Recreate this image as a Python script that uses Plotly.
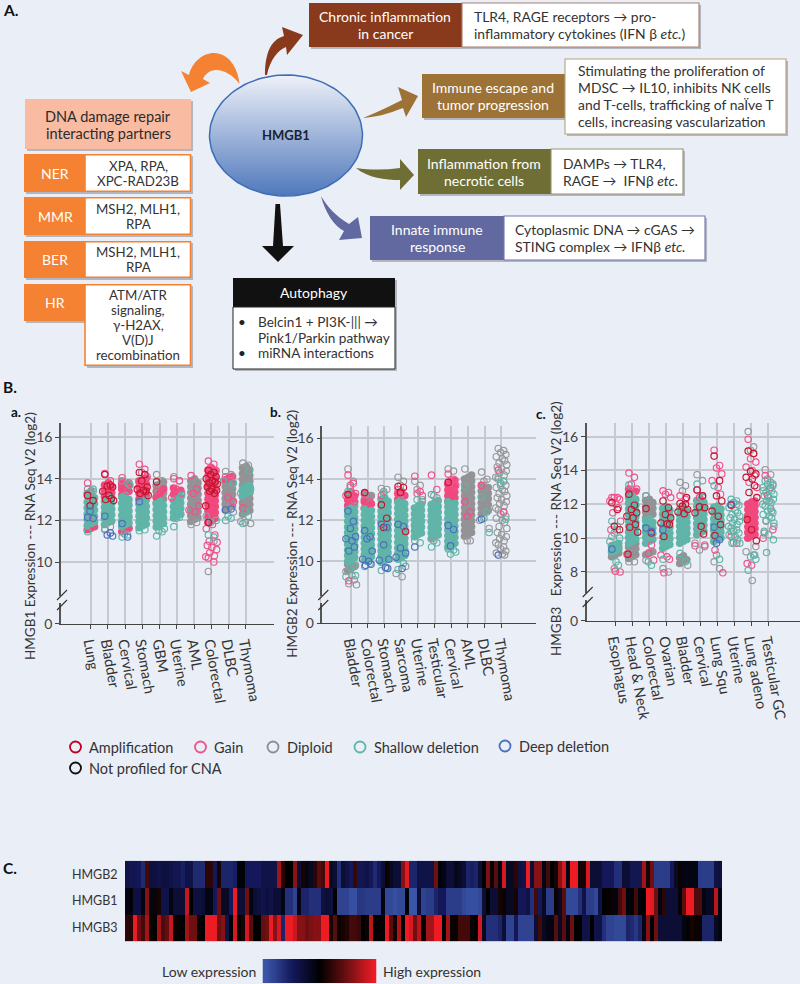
import numpy as np
import plotly.graph_objects as go

# ---------- data: panel a ----------
A_CATEGORIES = ["Lung", "Bladder", "Cervical", "Stomach", "GBM", "Uterine", "AML", "Colorectal", "DLBC", "Thymoma"]
A_SHALLOW_CORE = [
    [11.75,11.85,11.92,12.03,12.1,12.2,12.31,12.4,12.5,12.6,12.68,12.8,12.88,13.0,13.08,13.2,13.3],
    [11.8,11.9,11.97,12.08,12.15,12.27,12.35,12.46,12.55,12.64,12.73,12.84,12.92,13.02,13.1],
    [11.7,11.8,11.87,11.98,12.06,12.17,12.25,12.36,12.45,12.55,12.63,12.74,12.82,12.93,13.0,13.12,13.2],
    [11.65,11.74,11.83,11.94,12.02,12.12,12.21,12.31,12.4,12.5,12.58,12.68,12.77,12.88,12.98],
    [11.68,11.78,11.85,11.96,12.04,12.14,12.23,12.33,12.42,12.52,12.6,12.71,12.8,12.9],
    [12.12,12.2,12.3,12.38,12.48,12.57,12.66,12.76,12.85,12.95,13.03,13.12],
    [],
    [],
    [],
    [13.2,13.3,13.38,13.48,13.58,13.66],
]
A_GAIN_CORE = [
    [11.55,11.62,11.7],
    [13.15,13.24,13.33,13.42,13.52,13.6,13.7,13.8],
    [11.45,11.55,11.62,13.22,13.32,13.4,13.5,13.6,13.68,13.76],
    [13.02,13.12,13.2,13.3,13.4,13.48,13.58,13.68,13.76,13.86,13.95,14.02],
    [13.1,13.3,13.5],
    [13.25,13.35,13.45,13.55],
    [],
    [11.9,12.0,12.1,12.18,12.28,12.38,12.46,12.56,12.66,12.74,12.84,12.94,13.02,13.12,13.22,13.3,13.4,13.5,13.58,13.68,13.78,13.86,13.96,14.06,14.14,14.24,14.34,14.42,14.5],
    [13.95,14.05,14.12],
    [],
]
A_DIPLOID_CORE = [
    [13.3,13.42],
    [],
    [13.6,13.7,13.8,13.86],
    [13.9],
    [12.85,12.95,13.03,13.13,13.22,13.32,13.4,13.5,13.58,13.68,13.76,13.84],
    [],
    [11.95,12.05,12.13,12.23,12.32,12.42,12.5,12.6,12.7,12.78,12.88,12.97,13.07,13.15,13.25,13.35,13.43,13.53,13.62,13.72,13.8,13.9,14.0],
    [],
    [12.5,12.6,12.68,12.78,12.87,12.97,13.05,13.15,13.25,13.33,13.43,13.52,13.62,13.7,13.8,13.88],
    [12.3,12.4,12.48,12.58,12.67,12.77,12.85,12.95,13.05,13.13,13.23,13.32,13.42,13.5,13.6,13.7,13.78,13.88,13.97,14.07,14.15,14.25,14.35,14.43,14.53,14.6],
]
A_DIPLOID = [[13.5,13.4,12.0],[11.55,11.7],[13.9,13.8],[],[14.2,13.9],[14.1,13.9],[11.8,11.9],[9.55,11.0],[14.35,14.2,12.6,12.4],[14.75,14.65,11.9,11.85,11.95]]
A_GAIN = [[13.8],[14.25,13.9],[14.05,13.4],[14.7,14.45,14.3,14.1],[13.4],[14.0,13.9,13.5,13.3,13.1],[14.15,13.5,13.3,12.7,12.5,12.4],
          [14.85,14.7,14.55,14.4,11.6,11.8,11.3,11.0,10.95,10.8,10.7,10.6,10.45,10.3,10.25,10.2,10.0],[14.1,14.0,13.1,12.9],[12.6]]
A_SHALLOW = [[11.45,13.5],[11.6],[11.2,11.3,11.35,13.7],[11.5,11.55],[11.25,11.45,11.5,11.6],[11.7,12.15,12.1,13.2],[],[11.3,11.2,11.9,12.0,12.2],[12.0,12.1,12.2,13.8,13.9],[11.85,12.2,12.4,13.5,13.3,13.7,14.4]]
A_AMP = [[13.2,12.95,12.7],[14.2,13.7,13.65,13.6,13.4,13.2,13.05,13.0,12.95],[],[14.3,14.2,13.9,13.6,13.5,13.45,13.4,13.3,13.2],[13.85],[],[],
         [14.4,14.3,14.2,14.1,14.0,13.9,13.85,13.8,13.75,13.6,13.5,13.45,13.4,13.3,12.7,11.9],[],[]]
A_DEEP = [[12.15,12.1,12.45],[12.2,11.4,11.3,11.25],[11.85,11.2],[12.9],[],[],[],[],[12.5,12.55],[]]
A_YTICKS = [10, 12, 14, 16]

# ---------- data: panel b ----------
B_CATEGORIES = ["Bladder", "Colorectal", "Stomach", "Sarcoma", "Uterine", "Testicular", "Cervical", "AML", "DLBC", "Thymoma"]
B_SHALLOW_CORE = [
    [10.0,10.1,10.18,10.28,10.37,10.47,10.55,10.65,10.75,10.83,10.93,11.02,11.12,11.2,11.3,11.4,11.48,11.58,11.67,11.77,11.85,11.95,12.05,12.13,12.23,12.32,12.42,12.5,12.6,12.7],
    [10.05,10.15,10.23,10.33,10.42,10.52,10.6,10.7,10.8,10.88,10.98,11.07,11.17,11.25,11.35,11.45,11.53,11.63,11.72,11.82,11.9,12.0,12.1,12.18,12.28,12.37,12.47,12.56],
    [9.95,10.05,10.13,10.23,10.32,10.42,10.5,10.6,10.7,10.78,10.88,10.97,11.07,11.15,11.25,11.35,11.43,11.53,11.62,11.72,11.8,11.9,12.0,12.08,12.18,12.27,12.37,12.45,12.55,12.65,12.73,12.83,12.92,13.02,13.1],
    [10.1,10.2,10.28,10.38,10.47,10.57,10.65,10.75,10.85,10.93,11.03,11.12,11.22,11.3,11.4,11.5,11.58,11.68,11.77,11.87,11.95,12.05,12.15,12.23,12.33,12.42,12.52,12.6,12.7,12.8,12.88,12.98],
    [11.2,11.3,11.38,11.48,11.57,11.67,11.75,11.85,11.95,12.03,12.13,12.22,12.32,12.4,12.5,12.6,12.68,12.78],
    [11.1,11.2,11.28,11.38,11.47,11.57,11.65,11.75,11.85,11.93,12.03,12.12,12.22,12.3,12.4,12.5,12.58,12.68,12.77,12.87,12.95],
    [10.7,10.8,10.88,10.98,11.07,11.17,11.25,11.35,11.45,11.53,11.63,11.72,11.82,11.9,12.0,12.1,12.18,12.28,12.37,12.47,12.55,12.65,12.75,12.83,12.9],
    [],
    [],
    [],
]
B_GAIN_CORE = [
    [12.72,12.82,12.9,13.0,13.1,13.18,13.28,13.38],
    [12.6,12.7,12.8,12.9],
    [],
    [13.02,13.12,13.2,13.3,13.4],
    [],
    [],
    [12.92,13.02,13.1,13.2,13.3,13.38,13.48,13.58,13.66,13.76,13.85,13.95],
    [],
    [],
    [],
]
B_DIPLOID_CORE = [
    [9.55,9.65,9.75,9.85,9.95],
    [13.0,13.1,13.2,13.28],
    [],
    [],
    [],
    [],
    [],
    [11.22,11.32,11.4,11.5,11.6,11.68,11.78,11.88,11.96,12.06,12.15,12.25,12.33,12.43,12.53,12.61,12.71,12.8,12.9,12.98,13.08,13.18,13.26,13.36,13.45,13.55,13.63,13.73,13.83,13.91,14.01,14.1,14.2],
    [12.3,12.4,12.48,12.58,12.67,12.77,12.85,12.95,13.05,13.13,13.23,13.32,13.42,13.5,13.6,13.7],
    [],
]
B_DIPLOID = [[14.5,13.9,13.6,9.8,9.5,9.3,9.1,8.9,8.85],[13.3,13.2],[13.55,13.5,13.4],[14.1,13.9,13.7,9.75,9.4,9.25],[13.9,13.7,13.5,13.0],[13.25,13.1,11.0],[14.5,14.4],[14.5,11.0,11.0],[14.35,14.0,13.9,11.6,12.0],
             [15.5,15.4,15.3,15.2,15.1,15.0,14.9,14.8,14.7,14.6,14.5,14.4,14.3,14.2,14.1,14.0,13.9,13.8,13.7,13.6,13.5,13.4,13.3,13.2,13.1,13.0,12.9,12.8,12.7,12.6,12.5,12.4,12.3,12.2,12.1,12.0,11.9,11.7,11.6,11.4,11.3,11.2,11.1,11.0,10.9,10.8,10.7,10.6,10.5,10.4,10.35,10.3]]
B_GAIN = [[14.2,13.8,13.7,13.3,13.2,13.0,12.9,9.05],[13.3,12.9],[13.2],[13.5,13.2],[14.15,13.4,13.3,13.2],[14.2,13.5],[14.25,14.0,13.9,13.7],[12.9,12.4,12.2],[13.7],[14.45,12.4]]
B_SHALLOW = [[13.4,9.8,9.7,9.3,9.25],[9.75,9.9,10.0],[9.55,9.7,13.3],[9.6,9.9],[11.0,10.9,13.0,12.9],[10.7,10.9,13.2],[10.6,10.55,10.35,10.45],[13.65],[13.15,12.4,12.1,11.4],[14.1,13.9,13.7,12.05]]
B_AMP = [[13.25],[13.35],[12.75,12.1,11.65],[13.65,13.6,13.35,11.45],[],[],[13.85],[],[],[]]
B_DEEP = [[12.45,11.95,11.6,11.2,11.1,11.0,10.7,10.5],[11.5,11.2,11.1,10.5,10.1,10.0,9.85,9.8],[11.8,11.65,10.8,10.1,10.05,9.7,9.65],[11.8,11.7,10.65,10.4,10.2,9.65],[10.7],[],[11.75,11.55,10.75],[],[12.05],[10.3]]
B_YTICKS = [10, 12, 14, 16]

# ---------- data: panel c ----------
C_CATEGORIES = ["Esophagus", "Head & Neck", "Colorectal", "Ovarian", "Bladder", "Cervical", "Lung Squ", "Uterine", "Lung adeno", "Testicular GC"]
C_SHALLOW_CORE = [
    [9.15,9.27,9.35,9.47,9.6,9.7],
    [9.7,9.82,9.92,10.04,10.15,10.27,10.37,10.49,10.6,10.72,10.82,10.94,11.05,11.17,11.27,11.39,11.5,11.62,11.72,11.84,11.95,12.07,12.17,12.29,12.4,12.5],
    [9.7,9.82,9.92,10.04,10.15,10.27,10.37,10.49,10.6,10.72,10.82,10.94,11.05,11.15],
    [9.4,9.52,9.62,9.74,9.85,9.97,10.07,10.19,10.3,10.42,10.52,10.64,10.75,10.87,10.97,11.09,11.2,11.32,11.42,11.54,11.65,11.77,11.87],
    [9.7,9.82,9.92,10.04,10.15,10.27,10.37,10.49,10.6,10.72,10.82,10.94,11.05,11.17,11.27,11.39,11.5,11.62,11.72,11.8],
    [10.2,10.32,10.42,10.54,10.65,10.77,10.87,10.99,11.1,11.22,11.32,11.44,11.55,11.67,11.77,11.89,12.0,12.12,12.22,12.3],
    [9.8,9.92,10.02,10.14,10.25,10.37,10.47,10.59,10.7,10.82,10.92,11.04,11.15,11.27,11.37,11.49,11.6,11.72,11.82,11.9],
    [],
    [],
    [],
]
C_GAIN_CORE = [
    [],
    [12.55,12.67,12.77,12.9],
    [],
    [],
    [],
    [],
    [],
    [],
    [10.0,10.12,10.22,10.34,10.45,10.57,10.67,10.79,10.9,11.02,11.12,11.24,11.35,11.47,11.57,11.69,11.8,11.92,12.02,12.14,12.2],
    [],
]
C_DIPLOID_CORE = [
    [8.9,9.02,9.12,9.24,9.35,9.47,9.55],
    [8.8,8.92,9.02,9.14,9.25,9.37,9.47,9.59,9.68],
    [9.02,9.14,9.2,11.2,11.32,11.42,11.54,11.65,11.77,11.87,11.99,12.1,12.22,12.3],
    [],
    [8.5,8.62,8.72,8.84,8.95],
    [],
    [],
    [],
    [],
    [],
]
C_DIPLOID = [[10.1,10.5,8.2],[8.6,8.6],[8.7,9.2],[8.2,8.0],[13.3,13.1,12.8,8.4],[13.75,13.4,9.3,9.5,9.7],[8.6,8.2,9.0],[10.4,12.0,9.75],[16.3,15.4,15.2,9.5,9.2,7.5,9.0],[14.05,13.75,13.5,13.2,12.8,12.2,11.6,11.0,10.7,10.3]]
C_GAIN = [[12.4,12.4,12.4,12.3,12.2,12.0,11.8,11.5,11.0,10.5,8.05,8.0],[13.85,13.6,13.2,12.9,9.05],[12.5,9.6,9.1,8.7],[12.8,12.7,12.6,12.4,9.0,8.9,8.75,7.95],[12.5,12.3],[12.85,12.5,12.4,9.6,9.55],[15.2,14.3,14.15,13.8,13.4,13.0,12.6,9.3,7.95],[10.1,9.7],
          [15.85,15.0,14.7,14.5,14.2,14.0,13.7,13.3,13.0,8.5,8.4],[13.7,13.0,12.5,10.5,10.0]]
C_SHALLOW = [[11.0,10.7,10.3,10.0,9.8,8.6,8.4],[13.15,12.0],[12.5,8.4,8.6],[8.75],[9.1,8.6],[13.2,12.4],[13.1,8.75],
             [12.3,12.2,12.1,11.95,11.8,11.65,11.5,11.4,11.3,11.2,11.1,11.0,10.9,10.8,10.7,10.6,10.5,10.4,10.3,10.2,10.1,9.9,9.7,9.7],[8.1,9.0,8.9,8.75],
             [13.4,13.3,13.2,13.1,13.0,12.9,12.8,12.7,12.6,12.5,12.4,12.3,12.2,12.1,12.0,11.9,11.75,11.6,11.5,11.4,11.3,11.2,11.05,10.9,10.4,10.2,9.9,9.15]]
C_AMP = [[12.1,11.7,10.7,10.5],[12.6,11.95,11.7,11.5,11.3,11.2,10.8,10.65,10.35,9.05],[11.75,10.3],[12.2,11.8,11.4,11.2,10.9,10.85,10.8,10.1],[12.05,12.0,11.9,11.7,11.55,11.45,12.4],[12.85,12.5,11.85,11.8,11.5,10.7,10.25],[14.85,13.4,12.5,12.2,11.6,11.3,10.8,10.15],[11.95],[15.15,15.0,13.95,13.8,13.6,13.5,13.1,12.7,12.4,11.1,10.5,9.85],[]]
C_DEEP = [[9.35],[],[10.6,10.4],[10.5],[],[],[10.65,9.9,9.7],[12.0],[],[]]
C_YTICKS = [8, 10, 12, 14, 16]

# ---------- data: heat map ----------
HEAT_GENES = ["HMGB2", "HMGB1", "HMGB3"]
HMGB2_VALUES = [
    -.4,-.45,-.45,-.5,-.65,.3,-.35,-.35,-.4,-.35,-.35,-.4,-.45,-.45,-.55,-.4,-.4,-.65,-.65,-.65,.2,.2,-.5,.1,-.6,
    -.6,-.6,-.55,-.05,-.05,-.5,-.5,-.5,-.5,-.4,-.4,-.4,-.4,.7,.2,0,0,.6,-.3,.1,-.1,-.2,.2,.4,.3,
    1,-.2,-.3,-.7,-.3,-.4,-.5,.25,-.45,-.45,-.4,-.5,-.65,-.5,-.3,.05,-.2,-.3,-.3,.6,.95,-.6,-.6,-.4,-.4,
    -.4,-.4,.5,-.05,-.1,-.3,-.3,-.15,-.2,-.3,-.6,-.55,-.6,-.3,0,.55,.05,.4,-.1,.9,-.2,-.2,.2,-.35,-.4,
    1,-.3,.6,.6,-.1,.3,0,.1,.6,.9,-.1,1,1,.1,.1,.9,-.3,-.3,-.3,-.5,-.5,-.5,-.7,-.7,-.3,
    -.3,-.45,-.45,-.45,.7,.1,.5,-.8,-.8,-.8,-.8,-.5,-.2,.05,-.1,-.1,-.1,-.1,-.8,-.8,-.8,-.8,-.4,-.35,
]
HMGB1_VALUES = [
    -.1,-.05,-.35,-.35,-.1,.6,-.1,.05,.1,-.4,-.4,-.1,-.3,-.3,-.3,.85,0,-.35,-.35,-.3,-.1,-.1,-.5,.5,-.2,
    -.2,-.5,1,-.3,-.3,.5,-.1,-.3,-.35,-.4,-.35,-.4,-.3,-.3,-.1,-.7,-.7,-.85,-.1,-.6,-.6,-.7,-.7,-.7,-.35,
    -.3,-.35,0,-.85,-.85,-.85,-.95,-.95,-.75,-.75,-.8,-.8,-.8,-.8,-.1,-.9,-.9,-.95,-.9,-.9,-.05,-1,-1,-.3,-.85,
    -.8,-.8,-.6,-.5,-.5,-.8,-.8,-.8,-.8,-.9,-.95,-.95,-.95,-.9,-.3,0,-.3,-.3,.1,.05,-.2,-.2,.1,-.5,-.5,
    -.4,-.7,.3,-.5,-.2,-.8,-.8,.05,-.2,.4,-.9,-.9,-.9,-.7,-.4,-.8,-.8,-.9,-.4,0,.02,.05,-.1,.3,.5,
    -.05,-.05,.3,-.05,0,1,.95,.5,-.1,.2,-.3,-.3,-.3,-.05,.4,1,1,.35,.35,-.1,-.2,-.2,.8,-.1,
]
HMGB3_VALUES = [
    .2,.15,1,.5,.3,.7,.05,0,.7,.35,.45,.85,.05,.02,0,.7,.5,.5,.05,0,1,1,1,.5,.6,
    -.4,0,.9,.02,.1,.9,.4,0,0,.45,.5,1,.6,.9,-.6,1,1,.85,.6,.6,.5,.55,.6,.6,1,
    1,.1,.4,.05,.1,.15,.3,.3,.25,0,.05,.8,0,0,.02,1,.4,.1,.75,0,1,.9,.5,.8,.02,
    .7,.7,1,1,0,.7,.05,.05,.3,.3,.3,.05,0,.9,-.2,-.7,-.7,-.7,-.6,-.3,-.85,-.85,-.5,-.85,-.85,
    -.85,-.85,-.3,.3,-.2,-.1,-.1,.4,-.2,.4,-.1,.5,0,0,-.4,-.4,0,-.4,-.4,-.7,-.85,-.85,-.9,-.9,-.9,
    -.6,-.65,-.75,-.6,-.1,.6,0,.5,-.3,-.3,-.3,-.3,-.3,-.3,-.1,-.05,.1,.05,.05,-.6,-.6,-.6,-.2,-.1,
]
SCALE_LEVELS = [-1, -.9, -.8, -.7, -.6, -.5, -.4, -.3, -.2, -.1, 0, .1, .2, .3, .4, .5, .6, .7, .8, .9, 1]

# ---------- look ----------
FONT = "Lato"
BG = "#EAEEF6"
INK = "#2b2b2b"
AMP, GAIN, DIPLOID, SHALLOW, DEEP = "#C8142C", "#F0528A", "#98989B", "#5FB5A8", "#4A70BE"
CORE_JITTER = [-.2, .02, .22]
RING_JITTER = [-.18, .14, -.04, .27, -.3, .06, .2, -.13, .33, -.24, .02, .3, -.1, .17, -.33]
HEAT_SCALE = [[0, "#3A55A8"], [0.25, "#14185A"], [0.5, "#000000"], [0.75, "#6E1012"], [1, "#ED1C24"]]

fig = go.Figure()

# ---------- overlay pixel axes for the diagram ----------
fig.update_layout(
    xaxis4=dict(domain=[0, 1], range=[0, 800], visible=False, fixedrange=True, automargin=False),
    yaxis4=dict(domain=[0, 1], range=[984, 0], visible=False, fixedrange=True, anchor="x4", automargin=False),
)
shapes, notes = [], []


def rect(x0, y0, x1, y1, fill, line=None, lw=0):
    shapes.append(dict(type="rect", xref="x4", yref="y4", x0=x0, y0=y0, x1=x1, y1=y1,
                       fillcolor=fill, line=dict(color=line or fill, width=lw), layer="below"))


def shadow(x0, y0, x1, y1):
    rect(x0 + 2, y0 + 2, x1 + 2, y1 + 2, "rgba(40,40,50,0.28)")


def path(d, fill):
    shapes.append(dict(type="path", xref="x4", yref="y4", path=d, fillcolor=fill, line=dict(width=0), layer="below"))


def text(x, y, s, color=INK, size=13.5, anchor="center", bold=False, angle=0):
    notes.append(dict(xref="x4", yref="y4", x=x, y=y, text=f"<b>{s}</b>" if bold else s, showarrow=False,
                      xanchor=anchor, yanchor="middle", textangle=angle,
                      font=dict(family=FONT, size=size, color=color)))


def rows(x, ys, lines, **kw):
    for y, s in zip(ys, lines):
        text(x, y, s, **kw)


text(1, 10, "A.", anchor="left", size=15.5, bold=True, color="#111")
text(1, 387, "B.", anchor="left", size=15.5, bold=True, color="#111")
text(1, 868, "C.", anchor="left", size=15.5, bold=True, color="#111")
text(9, 412, "a.", anchor="left", size=13.5, bold=True, color="#111")
text(268, 412, "b.", anchor="left", size=13.5, bold=True, color="#111")
text(534, 414, "c.", anchor="left", size=13.5, bold=True, color="#111")

# left column
ORANGE = "#F58233"
shadow(25, 99, 191, 149)
rect(25, 99, 191, 149, "#F9BBA2")
rows(108, [116, 133], ["DNA damage repair", "interacting partners"], size=14.5)
for y0, y1, lab_y1, name, lines in [
    (154, 192, 192, "NER", ["XPA, RPA,", "XPC-RAD23B"]),
    (197, 235, 235, "MMR", ["MSH2, MLH1,", "RPA"]),
    (241, 278, 278, "BER", ["MSH2, MLH1,", "RPA"]),
    (284, 366, 321, "HR", ["ATM/ATR", "signaling,", "γ-H2AX,", "V(D)J", "recombination"]),
]:
    shadow(24, y0, 85, lab_y1)
    shadow(85, y0, 191, y1)
    rect(24, y0, 85, lab_y1, ORANGE)
    rect(85, y0 + .8, 190.5, y1 - .8, "white", ORANGE, 1.6)
    text(55, (y0 + lab_y1) / 2, name, color="white", size=14)
    n = len(lines)
    mid = (y0 + y1) / 2
    rows(138, [mid + (i - (n - 1) / 2) * 15 for i in range(n)], lines, size=13.3, color="#333")

# arrows
path("M181,71 L189,75 C192,62 203,53 214,53 C228,53 238,67 239.5,84 C233,75 224,70 216,70 C210,70 205,74 203,79 L210,83 L191,92 Z", ORANGE)
path("M265,75 C265,55 270,40 284,36 L282,27 L303,35 L287,55 L286,47 C278,50 270,60 267,75 Z", "#8A3A1C")
path("M363,118 C378,112 390,106 402,100 L398,87 L418,96 L406,117 L403,108 C388,114 376,117 363,118 Z", "#9C7236")
path("M356,168 C370,170 385,170 400,168 L400,159 L414,175 L400,190 L400,180 C385,180 368,178 356,168 Z", "#6F6F35")
path("M321,196 C328,208 336,216 349,224 L358,217 L362,238 L339,240 L344,231 C334,226 325,212 321,196 Z", "#6169A0")
path("M275.5,204 L280,204 L283,246 L294,246 L278,262 L262,246 L273,246 Z", "#111")

# right boxes
for lx0, lx1, wx0, wx1, y0, y1, ly0, ly1, col, edge in [
    (309, 462, 462, 699, 3, 47, 3, 47, "#8A3A1C", "#A97F6E"),
    (422, 565, 565, 786, 59, 134, 74, 118, "#9C7236", "#B9A27C"),
    (418, 551, 551, 683, 149, 194, 149, 194, "#6F6F35", "#96966C"),
    (370, 504, 504, 705, 216, 260, 216, 260, "#6169A0", "#7077AB"),
]:
    shadow(lx0, ly0, lx1, ly1)
    shadow(wx0, y0, wx1, y1)
    rect(lx0, ly0, lx1, ly1, col)
    rect(wx0, y0, wx1, y1, "white", edge, 1.1)

BODY = 13.9
rows(385, [16, 33], ["Chronic inflammation", "in cancer"], color="white", size=14)
rows(472, [16, 33], ["TLR4, RAGE receptors → pro-", "inflammatory cytokines (IFN β <i>etc.</i>)"], anchor="left", color="#333", size=BODY)
rows(493, [87, 104], ["Immune escape and", "tumor progression"], color="white", size=14)
rows(576, [70, 87, 104, 121], ["Stimulating the proliferation of", "MDSC → IL10, inhibits NK cells",
                               "and T-cells, trafficking of naÏve T", "cells, increasing vascularization"], anchor="left", color="#333", size=BODY)
rows(484, [163, 180], ["Inflammation from", "necrotic cells"], color="white", size=14)
rows(561, [163, 180], ["DAMPs → TLR4,", "RAGE →  IFNβ <i>etc.</i>"], anchor="left", color="#333", size=BODY)
rows(437, [229, 246], ["Innate immune", "response"], color="white", size=14)
rows(513, [229, 246], ["Cytoplasmic DNA → cGAS →", "STING complex → IFNβ <i>etc.</i>"], anchor="left", color="#333", size=BODY)

# autophagy
shadow(233, 278, 395, 369)
rect(233, 278, 395, 307, "#111")
rect(233, 307, 395, 369, "white", "#222", 1)
text(314, 292, "Autophagy", color="white", size=14)
rows(242, [322, 353], ["•", "•"], color="#222", anchor="center")
rows(256, [321.5, 337.5, 353], ["Belcin1 + PI3K-||| →", "Pink1/Parkin pathway", "miRNA interactions"], anchor="left", color="#333", size=13.6)

# ellipse with vertical gradient
t = np.linspace(0, 2 * np.pi, 121)
fig.add_trace(go.Scatter(x=286 + 76.5 * np.cos(t), y=135.5 + 60.5 * np.sin(t), xaxis="x4", yaxis="y4", mode="lines",
                         line=dict(color="#3E6DB5", width=1.5), fill="toself",
                         fillgradient=dict(type="vertical", colorscale=[[0, "#4F78BC"], [1, "#EEF1F8"]]),
                         hoverinfo="skip", showlegend=False))
text(286, 135, "HMGB1", size=13, color="#1c2230", bold=True)

# ---------- strip panels ----------


def strip(idx, cats, px, yticks, y_zero, y_top, title, tx, ty, series):
    xa, ya = f"xaxis{idx}", f"yaxis{idx}"
    x_l, x_r, x_first, dx, y_t, y_b = px
    fig.update_layout({
        xa: dict(domain=[x_l / 800, x_r / 800], range=[(x_l - x_first) / dx, (x_r - x_first) / dx], anchor=f"y{idx}",
                 tickmode="array", tickvals=list(range(len(cats))), ticktext=cats, tickangle=80, ticks="outside",
                 ticklen=4, tickcolor="#444", showgrid=True, gridcolor="#C6C9CF", gridwidth=1.5, zeroline=False,
                 showline=True, linecolor="#444", linewidth=1.3, tickfont=dict(family=FONT, size=14.5, color="#333"),
                 fixedrange=True, automargin=False),
        ya: dict(domain=[1 - y_b / 984, 1 - y_t / 984], range=[y_zero, y_top], anchor=f"x{idx}",
                 tickmode="array", tickvals=[y_zero] + yticks, ticktext=["0"] + [str(v) for v in yticks], ticks="outside",
                 ticklen=4, tickcolor="#444", showgrid=True, gridcolor="#C6C9CF", gridwidth=1.5, zeroline=False,
                 showline=True, linecolor="#555", linewidth=1.5, tickfont=dict(family=FONT, size=14, color="#444"),
                 fixedrange=True, automargin=False),
    })
    for values, color, filled in series:
        xs, ys = [], []
        jit = CORE_JITTER if filled else RING_JITTER
        for i, col in enumerate(values):
            for k, v in enumerate(col):
                xs.append(i + jit[k % len(jit)])
                ys.append(v)
        if not xs:
            continue
        marker = (dict(symbol="circle", size=7.6, color=color, line=dict(width=0)) if filled else
                  dict(symbol="circle-open", size=6.4, color=color, line=dict(width=1.15, color=color)))
        fig.add_trace(go.Scatter(x=xs, y=ys, mode="markers", marker=marker, xaxis=f"x{idx}", yaxis=f"y{idx}",
                                 hoverinfo="skip", showlegend=False, cliponaxis=False))
    text(tx, ty, title, angle=-90, size=13.5, color="#333")


strip(1, A_CATEGORIES, (61, 274, 90.7, 17.25, 422.7, 623.7), A_YTICKS, 7.04, 16.69,
      "HMGB1 Expression --- RNA Seq V2 (log2)", 30, 536,
      [(A_DIPLOID_CORE, "#939396", True), (A_GAIN_CORE, "#F0497D", True), (A_SHALLOW_CORE, "#60B4A8", True),
       (A_DIPLOID, DIPLOID, False), (A_GAIN, GAIN, False), (A_SHALLOW, SHALLOW, False), (A_AMP, AMP, False), (A_DEEP, DEEP, False)])
strip(2, B_CATEGORIES, (322.3, 535.7, 351, 16.7, 425.7, 623), B_YTICKS, 6.99, 16.61,
      "HMGB2 Expression --- RNA Seq V2 (log2)", 291.7, 534,
      [(B_DIPLOID_CORE, "#939396", True), (B_GAIN_CORE, "#F0497D", True), (B_SHALLOW_CORE, "#60B4A8", True),
       (B_DIPLOID, DIPLOID, False), (B_GAIN, GAIN, False), (B_SHALLOW, SHALLOW, False), (B_AMP, AMP, False), (B_DEEP, DEEP, False)])
strip(3, C_CATEGORIES, (586.7, 800, 615, 17.03, 423.3, 620.7), C_YTICKS, 5.12, 16.79,
      "HMGB3   Expression --- RNA Seq V2 (log2)", 556, 529,
      [(C_DIPLOID_CORE, "#939396", True), (C_GAIN_CORE, "#F0497D", True), (C_SHALLOW_CORE, "#60B4A8", True),
       (C_DIPLOID, DIPLOID, False), (C_GAIN, GAIN, False), (C_SHALLOW, SHALLOW, False), (C_AMP, AMP, False), (C_DEEP, DEEP, False)])

# axis breaks
for ax, top in [(61, 590), (322.3, 590), (586.7, 587)]:
    shapes.append(dict(type="rect", xref="x4", yref="y4", x0=ax - 2, x1=ax + 2, y0=top + 6, y1=top + 13,
                       fillcolor=BG, line=dict(width=0), layer="above"))
    for off in (0, 10):
        shapes.append(dict(type="line", xref="x4", yref="y4", x0=ax - 4, x1=ax + 6, y0=top + 10 + off, y1=top + off,
                           line=dict(color="#333", width=1.1), layer="above"))

# ---------- legend ----------
for x, y, label, color in [
    (75.5, 747, "Amplification", "#C00020"), (200.5, 747, "Gain", GAIN), (273, 747, "Diploid", "#8E8E90"),
    (360, 747, "Shallow deletion", SHALLOW), (505, 746, "Deep deletion", DEEP), (75.5, 768, "Not profiled for CNA", "#111"),
]:
    shapes.append(dict(type="circle", xref="x4", yref="y4", x0=x - 5.5, x1=x + 5.5, y0=y - 5.5, y1=y + 5.5,
                       line=dict(color=color, width=1.8), fillcolor="rgba(0,0,0,0)", layer="above"))
    text(x + 11.5, y, label, anchor="left", size=14.5, color="#333")

# ---------- heat map ----------
fig.add_trace(go.Heatmap(z=[HMGB2_VALUES, HMGB1_VALUES, HMGB3_VALUES], y=HEAT_GENES, xaxis="x5", yaxis="y5",
                         zmin=-1, zmax=1, hoverinfo="skip", colorscale=HEAT_SCALE, showscale=False))
fig.add_trace(go.Heatmap(z=[SCALE_LEVELS], x=SCALE_LEVELS, xaxis="x6", yaxis="y6", zsmooth="best",
                         zmin=-1, zmax=1, hoverinfo="skip", colorscale=HEAT_SCALE, showscale=False))
fig.update_layout(
    xaxis5=dict(domain=[125 / 800, 722 / 800], anchor="y5", visible=False, fixedrange=True, automargin=False),
    yaxis5=dict(domain=[1 - 941.3 / 984, 1 - 860.7 / 984], anchor="x5", autorange="reversed", ticks="outside", ticklen=4,
                tickcolor="rgba(0,0,0,0)", showline=False, automargin=False,
                tickfont=dict(family=FONT, size=12.5, color="#333"), fixedrange=True),
    xaxis6=dict(domain=[262.5 / 800, 376.5 / 800], anchor="y6", visible=False, fixedrange=True, automargin=False),
    yaxis6=dict(domain=[1 - 983 / 984, 1 - 959 / 984], anchor="x6", visible=False, fixedrange=True, automargin=False),
)
text(258, 971.5, "Low expression", anchor="right", size=14, color="#333")
text(381, 971.5, "High expression", anchor="left", size=14, color="#333")

fig.update_layout(width=800, height=984, margin=dict(l=0, r=0, t=0, b=0, autoexpand=False), autosize=False,
                  paper_bgcolor=BG, plot_bgcolor="rgba(0,0,0,0)", showlegend=False,
                  font=dict(family=FONT), shapes=shapes, annotations=notes)

fig.write_html("out.html", config=dict(displayModeBar=False),
               post_script="document.documentElement.style.overflow='hidden';document.body.style.margin='0';document.body.style.overflow='hidden';")
